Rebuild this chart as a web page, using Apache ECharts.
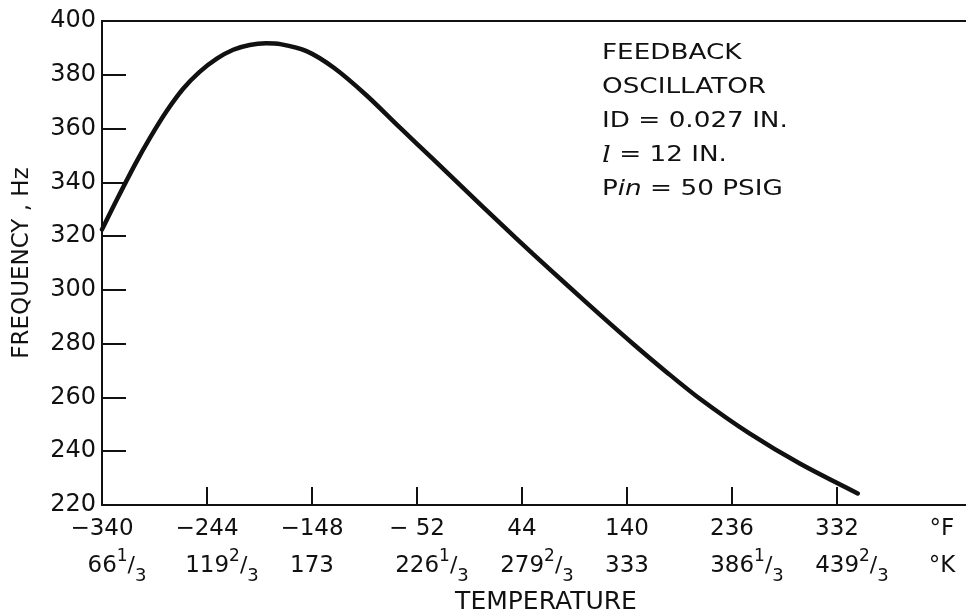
<!DOCTYPE html>
<html>
<head>
<meta charset="utf-8">
<script src="https://cdn.jsdelivr.net/npm/echarts@6/dist/echarts.min.js"></script>
<style>html,body{margin:0;padding:0;background:#fff}#c{width:966px;height:616px}</style>
</head>
<body>
<div id="c"></div>
<script>
// ---- data ----
const tempF = [-340, -328, -310, -296, -281, -266, -251, -235, -220, -205, -190, -177, -153, -128, -98, -68, -37, -7, 24, 54, 85, 115, 146, 176, 207, 252, 298, 351];
const frequencyHz = [322.5, 332.3, 346.5, 356.6, 366.4, 374.7, 381.0, 386.0, 389.3, 391.1, 391.7, 391.4, 388.8, 382.6, 372.3, 360.5, 348.5, 336.8, 324.8, 313.4, 301.9, 290.9, 279.8, 269.5, 259.4, 246.6, 235.4, 224.3];
const fTicks = [-340, -244, -148, -52, 44, 140, 236, 332];
const fahrenheitLabels = ['\u2212340', '\u2212244', '\u2212148', '\u2212 52', '44', '140', '236', '332'];
const kelvinLabels = ['66 1/3', '119 2/3', '173', '226 1/3', '279 2/3', '333', '386 1/3', '439 2/3'];
const unitTick = 428;
const unitLabels = ['\u00b0F', '\u00b0K'];
const yTicks = [220, 240, 260, 280, 300, 320, 340, 360, 380, 400];
const annotationLines = ['FEEDBACK', 'OSCILLATOR', 'ID = 0.027 IN.', '{it|l} = 12 IN.', 'P{ii|in} = 50 PSIG'];

const FONT = 'DejaVu Sans';
const INK = '#111';

function kelvinRich(s) {
  const parts = s.split(' ');
  if (parts.length === 1) return '{k|' + s + '}';
  const fr = parts[1].split('/');
  return '{pad| }{k|' + parts[0] + '}{n|' + fr[0] + '}{s|/}{d|' + fr[1] + '}';
}

const chart = echarts.init(document.getElementById('c'), null, {renderer: 'canvas'});
chart.setOption({
  animation: false,
  backgroundColor: '#fff',
  grid: {left: 102, right: 0, top: 21, bottom: 111, containLabel: false, outerBoundsMode: 'none'},
  xAxis: [{
    type: 'value',
    min: -340, max: 450,
    name: 'TEMPERATURE',
    nameLocation: 'middle',
    nameGap: 81,
    nameTextStyle: {fontFamily: FONT, fontSize: 25, color: INK, padding: [0, 0, 0, 24]},
    axisLine: {show: true, onZero: false, lineStyle: {color: INK, width: 2}},
    axisTick: {show: true, inside: true, length: 18, lineStyle: {color: INK, width: 2},
      customValues: fTicks.slice(1)},
    axisLabel: {
      show: true, margin: 6,
      customValues: fTicks.concat([unitTick]),
      formatter: function (v) {
        if (v === unitTick) return '{f|' + unitLabels[0] + '}\n{k|' + unitLabels[1] + '}';
        const i = fTicks.indexOf(v);
        if (i < 0) return '';
        return '{f|' + fahrenheitLabels[i] + '}\n' + kelvinRich(kelvinLabels[i]);
      },
      rich: {
        f: {fontFamily: FONT, fontSize: 23, color: INK, lineHeight: 37},
        k: {fontFamily: FONT, fontSize: 23, color: INK, lineHeight: 37},
        pad: {fontFamily: FONT, fontSize: 23, width: 30, lineHeight: 37},
        n: {fontFamily: FONT, fontSize: 17, color: INK, lineHeight: 22, verticalAlign: 'top'},
        s: {fontFamily: FONT, fontSize: 22, color: INK, lineHeight: 37},
        d: {fontFamily: FONT, fontSize: 18, color: INK, lineHeight: 20, verticalAlign: 'bottom'}
      }
    },
    splitLine: {show: false}
  }, {
    type: 'value', position: 'top', min: -340, max: 450,
    axisLine: {show: true, onZero: false, lineStyle: {color: INK, width: 2}},
    axisTick: {show: false}, axisLabel: {show: false}, splitLine: {show: false}
  }],
  yAxis: {
    type: 'value', min: 220, max: 400, interval: 20,
    name: 'FREQUENCY , Hz',
    nameLocation: 'middle',
    nameGap: 68,
    nameRotate: 90,
    nameTextStyle: {fontFamily: FONT, fontSize: 23, color: INK},
    axisLine: {show: true, onZero: false, lineStyle: {color: INK, width: 2}},
    axisTick: {show: true, inside: true, length: 24, lineStyle: {color: INK, width: 2},
      customValues: yTicks.slice(1, -1)},
    axisLabel: {show: true, margin: 6, fontFamily: FONT, fontSize: 24, color: INK,
      customValues: yTicks},
    splitLine: {show: false}
  },
  series: [{
    type: 'line',
    data: tempF.map((t, i) => [t, frequencyHz[i]]),
    smooth: 0.3,
    symbol: 'none',
    lineStyle: {color: INK, width: 4.5, cap: 'round'}
  }],
  graphic: [{
    type: 'text',
    x: 602, y: 37,
    scaleX: 1.25,
    style: {
      text: annotationLines.join('\n'),
      fontFamily: FONT, fontSize: 21, lineHeight: 34, fill: INK,
      rich: {
        it: {fontFamily: 'DejaVu Serif', fontStyle: 'italic', fontSize: 22, lineHeight: 34, fill: INK},
        ii: {fontFamily: FONT, fontStyle: 'italic', fontSize: 21, lineHeight: 34, fill: INK}
      }
    }
  }]
});
</script>
</body>
</html>
